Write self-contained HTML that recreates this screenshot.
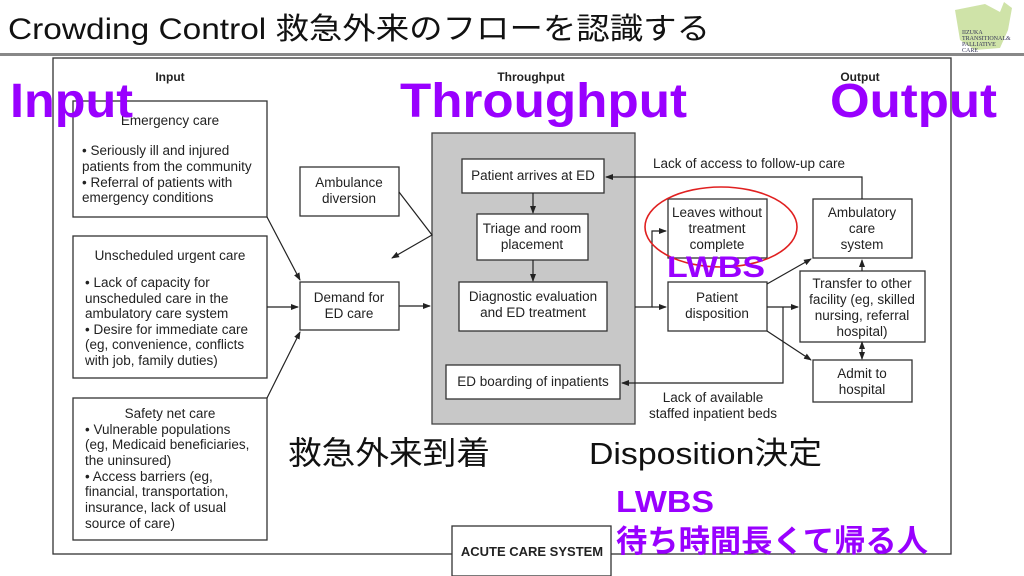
<!DOCTYPE html>
<html><head><meta charset="utf-8"><style>
html,body{margin:0;padding:0;background:#fff;width:1024px;height:576px;overflow:hidden}
svg{display:block}
.d{font-family:"Liberation Sans Narrow","Liberation Sans",sans-serif;font-size:13.5px;fill:#222}
.p{font-family:"Liberation Sans","Noto Sans CJK JP",sans-serif;font-weight:bold;fill:#9900ff}
.j{font-family:"Liberation Sans","Noto Sans CJK JP",sans-serif;fill:#111}
</style></head><body>
<svg width="1024" height="576" viewBox="0 0 1024 576" xmlns="http://www.w3.org/2000/svg">
<defs><marker id="a" markerWidth="8" markerHeight="8" refX="7" refY="4" orient="auto" markerUnits="userSpaceOnUse"><path d="M0,1 L8,4 L0,7 z" fill="#222"/></marker></defs>
<text x="8" y="39" class="j" font-size="30" fill="#222" textLength="702" lengthAdjust="spacingAndGlyphs">Crowding Control  救急外来のフローを認識する</text>
<rect x="0" y="53" width="1024" height="3" fill="#888"/>
<path d="M955,10 L985,4 L1000,12 L1004,2 L1012,8 L1008,30 L1000,48 L975,50 L960,40 Z" fill="#cfe3a8"/>
<text x="962" y="34" font-size="6" fill="#335" font-family="Liberation Serif">IIZUKA</text>
<text x="962" y="40" font-size="6" fill="#335" font-family="Liberation Serif">TRANSITIONAL&amp;</text>
<text x="962" y="46" font-size="6" fill="#335" font-family="Liberation Serif">PALLIATIVE</text>
<text x="962" y="52" font-size="6" fill="#335" font-family="Liberation Serif">CARE</text>
<g fill="none" stroke="#333" stroke-width="1.3">
<rect x="53" y="58" width="898" height="496"/>
</g>
<rect x="432" y="133" width="203" height="291" fill="#c8c8c8" stroke="#444" stroke-width="1.3"/>
<g fill="#fff" stroke="#333" stroke-width="1.3">
<rect x="73" y="101" width="194" height="116"/>
<rect x="73" y="236" width="194" height="142"/>
<rect x="73" y="398" width="194" height="142"/>
<rect x="300" y="167" width="99" height="49"/>
<rect x="300" y="282" width="99" height="48"/>
<rect x="462" y="159" width="142" height="34"/>
<rect x="477" y="214" width="111" height="46"/>
<rect x="459" y="282" width="148" height="49"/>
<rect x="446" y="365" width="174" height="34"/>
<rect x="668" y="199" width="99" height="59"/>
<rect x="668" y="282" width="99" height="49"/>
<rect x="813" y="199" width="99" height="59"/>
<rect x="800" y="271" width="125" height="71"/>
<rect x="813" y="360" width="99" height="42"/>
<rect x="452" y="526" width="159" height="50"/>
</g>
<g fill="none" stroke="#222" stroke-width="1.2" marker-end="url(#a)">
<path d="M267,217 L300,280"/>
<path d="M267,307 L298,307"/>
<path d="M267,398 L300,332"/>
<path d="M399,306 L430,306"/>
<path d="M399,192 L432,235 L392,258"/>
<path d="M533,193 L533,213"/>
<path d="M533,260 L533,281"/>
<path d="M635,307 L652,307 L652,231 L666,231"/>
<path d="M652,307 L666,307"/>
<path d="M862,199 L862,177 L606,177"/>
<path d="M767,284 L811,259"/>
<path d="M767,307 L798,307"/>
<path d="M767,331 L811,360"/>
<path d="M783,307 L783,383 L622,383"/>
<path d="M862,271 L862,260"/>
<path d="M862,352 L862,342"/>
<path d="M862,350 L862,359"/>
</g>
<g class="d" text-anchor="middle">
<text x="170" y="81" font-weight="bold" font-size="12">Input</text>
<text x="531" y="81" font-weight="bold" font-size="12">Throughput</text>
<text x="860" y="81" font-weight="bold" font-size="12">Output</text>
<text x="170" y="125">Emergency care</text>
<text x="170" y="260">Unscheduled urgent care</text>
<text x="170" y="418">Safety net care</text>
<text x="349" y="187">Ambulance</text><text x="349" y="203">diversion</text>
<text x="349" y="302">Demand for</text><text x="349" y="318">ED care</text>
<text x="533" y="180">Patient arrives at ED</text>
<text x="532" y="233">Triage and room</text><text x="532" y="249">placement</text>
<text x="533" y="301">Diagnostic evaluation</text><text x="533" y="317">and ED treatment</text>
<text x="533" y="386">ED boarding of inpatients</text>
<text x="717" y="217">Leaves without</text><text x="717" y="233">treatment</text><text x="717" y="249">complete</text>
<text x="717" y="302">Patient</text><text x="717" y="318">disposition</text>
<text x="862" y="217">Ambulatory</text><text x="862" y="233">care</text><text x="862" y="249">system</text>
<text x="862" y="288">Transfer to other</text><text x="862" y="304">facility (eg, skilled</text><text x="862" y="320">nursing, referral</text><text x="862" y="336">hospital)</text>
<text x="862" y="378">Admit to</text><text x="862" y="394">hospital</text>
<text x="749" y="168">Lack of access to follow-up care</text>
<text x="713" y="402">Lack of available</text><text x="713" y="418">staffed inpatient beds</text>
<text x="532" y="556" font-weight="bold" font-size="13">ACUTE CARE SYSTEM</text>
</g>
<g class="d">
<text x="82" y="155">• Seriously ill and injured</text>
<text x="82" y="171">patients from the community</text>
<text x="82" y="187">• Referral of patients with</text>
<text x="82" y="202">emergency conditions</text>
<text x="85" y="287">• Lack of capacity for</text>
<text x="85" y="303">unscheduled care in the</text>
<text x="85" y="318">ambulatory care system</text>
<text x="85" y="334">• Desire for immediate care</text>
<text x="85" y="349">(eg, convenience, conflicts</text>
<text x="85" y="365">with job, family duties)</text>
<text x="85" y="434">• Vulnerable populations</text>
<text x="85" y="449">(eg, Medicaid beneficiaries,</text>
<text x="85" y="465">the uninsured)</text>
<text x="85" y="481">• Access barriers (eg,</text>
<text x="85" y="496">financial, transportation,</text>
<text x="85" y="512">insurance, lack of usual</text>
<text x="85" y="528">source of care)</text>
</g>
<ellipse cx="721" cy="227" rx="76" ry="40" fill="none" stroke="#e02020" stroke-width="1.6"/>
<text x="10" y="117" class="p" font-size="48" textLength="123" lengthAdjust="spacingAndGlyphs">Input</text>
<text x="400" y="117" class="p" font-size="48" textLength="287" lengthAdjust="spacingAndGlyphs">Throughput</text>
<text x="830" y="117" class="p" font-size="48" textLength="167" lengthAdjust="spacingAndGlyphs">Output</text>
<text x="667" y="277" class="p" font-size="30" textLength="98" lengthAdjust="spacingAndGlyphs">LWBS</text>
<text x="288" y="464" class="j" font-size="32" textLength="202" lengthAdjust="spacingAndGlyphs">救急外来到着</text>
<text x="589" y="464" class="j" font-size="31" textLength="233" lengthAdjust="spacingAndGlyphs">Disposition決定</text>
<text x="616" y="512" class="p" font-size="31" textLength="98" lengthAdjust="spacingAndGlyphs">LWBS</text>
<text x="616" y="552" class="p" font-size="31" textLength="312" lengthAdjust="spacingAndGlyphs">待ち時間長くて帰る人</text>
</svg>
</body></html>
